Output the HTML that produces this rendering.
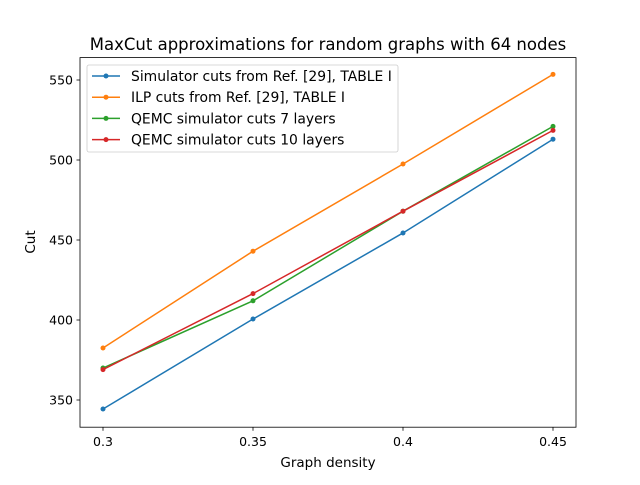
<!DOCTYPE html>
<html><head><meta charset="utf-8"><style>
body{margin:0;background:#fff}
svg text{font-family:"DejaVu Sans","Liberation Sans",sans-serif;fill:#000}
</style></head><body>
<svg id="chart" width="640" height="480" xmlns="http://www.w3.org/2000/svg">
<rect width="640" height="480" fill="#fff"/>
<text x="328" y="50" font-size="16.5" text-anchor="middle">MaxCut approximations for random graphs with 64 nodes</text>
<g id="plot"></g>
<rect x="80" y="57.6" width="496" height="369.6" fill="none" stroke="#000" stroke-width="0.8"/>
<text x="328" y="467" font-size="13.5" text-anchor="middle">Graph density</text>
<text x="35" y="242" font-size="13.5" text-anchor="middle" transform="rotate(-90 35 242)">Cut</text>
<g id="legend"></g>
</svg>
<script>
const categories=[0.3,0.35,0.4,0.45];
const xTicks=["0.3","0.35","0.4","0.45"];
const yTicks=[350,400,450,500,550];
const seriesNames=["Simulator cuts from Ref. [29], TABLE I","ILP cuts from Ref. [29], TABLE I","QEMC simulator cuts 7 layers","QEMC simulator cuts 10 layers"];
const simulator=[344.4,400.6,454.4,513];
const ilp=[382.5,443,497.5,553.5];
const qemc7=[370,412,468,521];
const qemc10=[369,416.5,468,518.5];
const colors=["#1f77b4","#ff7f0e","#2ca02c","#d62728"];
const NS="http://www.w3.org/2000/svg";
function xs(d){return 103+(d-0.3)*3000;}
function ys(v){return 400-(v-350)*1.6;}
const plot=document.getElementById('plot');
function mk(t,a,p){const e=document.createElementNS(NS,t);for(const k in a)e.setAttribute(k,a[k]);(p||plot).appendChild(e);return e;}
categories.forEach((c,i)=>{
  const x=xs(c);
  const t=mk('line',{x1:x,x2:x,y1:427.2,y2:430.7,stroke:'#000','stroke-width':0.8});
  
  
  const l=mk('text',{x:x,y:446,'font-size':12.5,'text-anchor':'middle'});l.textContent=xTicks[i];
  
  
});
yTicks.forEach(v=>{
  const y=ys(v);
  const t=mk('line',{x1:76.5,x2:80,y1:y,y2:y,stroke:'#000','stroke-width':0.8});
  
  
  const l=mk('text',{x:73,y:y+4.5,'font-size':12.5,'text-anchor':'end'});l.textContent=v;
  
  
});
[simulator,ilp,qemc7,qemc10].forEach((s,si)=>{
  const pts=s.map((v,i)=>xs(categories[i])+','+ys(v)).join(' ');
  const pl=mk('polyline',{points:pts,fill:'none',stroke:colors[si],'stroke-width':1.5});
  
  
  s.forEach((v,i)=>{
    const c=mk('circle',{cx:xs(categories[i]),cy:ys(v),r:2.5,fill:colors[si]});
    
    
  });
});
const lg=document.getElementById('legend');
mk('rect',{x:87,y:65,width:311,height:87,rx:2,fill:'#fff','fill-opacity':0.8,stroke:'#ccc','stroke-width':0.8},lg);
seriesNames.forEach((n,i)=>{
  const y=76+i*21.2;
  const ln=mk('line',{x1:92,x2:120,y1:y,y2:y,stroke:colors[i],'stroke-width':1.5},lg);
  
  
  mk('circle',{cx:106,cy:y,r:2.5,fill:colors[i]},lg);
  const t=mk('text',{x:131,y:y+5,'font-size':13.9},lg);t.textContent=n;
  
  
});
</script>
</body></html>
